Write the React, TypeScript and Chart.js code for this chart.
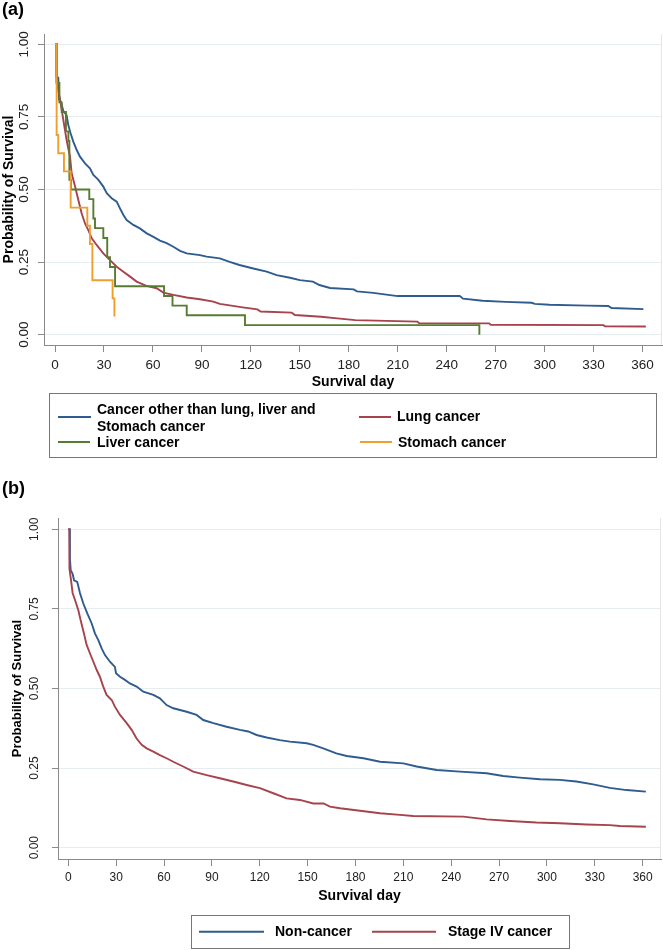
import React, { useEffect, useRef } from 'react';
import { Chart, registerables } from 'chart.js';

Chart.register(...registerables);

const FONT_FAMILY = 'Arial, "Liberation Sans", Helvetica, sans-serif';

// ---------- ticks & texts ----------
const X_TICK_VALUES = [0, 30, 60, 90, 120, 150, 180, 210, 240, 270, 300, 330, 360];
const X_TICK_LABELS = ['0', '30', '60', '90', '120', '150', '180', '210', '240', '270', '300', '330', '360'];
const Y_TICK_VALUES = [0, 0.25, 0.5, 0.75, 1];
const Y_TICK_LABELS = ['0.00', '0.25', '0.50', '0.75', '1.00'];

const X_TITLE = 'Survival day';
const Y_TITLE = 'Probability of Survival';
const PANEL_A_LABEL = '(a)';
const PANEL_B_LABEL = '(b)';

const SERIES_A_NAMES = [
  'Cancer other than lung, liver and\nStomach cancer',
  'Lung cancer',
  'Liver cancer',
  'Stomach cancer',
];
const SERIES_B_NAMES = ['Non-cancer', 'Stage IV cancer'];

// ---------- panel (a) survival curves: [day, survival] ----------
// dense curves: vertices of the traced curve
const otherCancer: [number, number][] = [
  [0, 1], [1, 1], [1, 0.89], [2, 0.885], [2.5, 0.81], [3.7, 0.8], [5.1, 0.77], [7.1, 0.756], [8.2, 0.72],
  [9.6, 0.693], [11.2, 0.665], [13.3, 0.636], [15.3, 0.613], [18.4, 0.59], [21.4, 0.573], [23.5, 0.55],
  [26.6, 0.533], [29.6, 0.51], [31.7, 0.487], [34.7, 0.47], [37.8, 0.458], [39.8, 0.435], [41.9, 0.412],
  [43.9, 0.395], [48, 0.378], [52, 0.366], [56.2, 0.349], [60.3, 0.337], [64.3, 0.324], [68.4, 0.315],
  [72.5, 0.303], [76.6, 0.289], [80.7, 0.28], [88.8, 0.274], [92.9, 0.269], [101, 0.263], [107, 0.251],
  [113, 0.24], [121.5, 0.228], [129.7, 0.217], [135.8, 0.205], [144, 0.196], [150, 0.188], [158, 0.183],
  [162, 0.171], [168.5, 0.161], [183, 0.156], [185, 0.149], [195, 0.144], [203, 0.138], [210, 0.133],
  [248, 0.133], [250, 0.124], [262, 0.117], [276, 0.113], [292, 0.11], [294, 0.106], [303, 0.103],
  [326, 0.1], [339, 0.099], [341, 0.092], [360.5, 0.088],
];
const lungCancer: [number, number][] = [
  [0, 1], [1, 1], [1, 0.87], [1.4, 0.86], [3.1, 0.81], [5.1, 0.74], [7.1, 0.67], [9.2, 0.613], [10.2, 0.556],
  [12.3, 0.51], [14.3, 0.464], [16.3, 0.418], [18.4, 0.383], [20.4, 0.36], [22.5, 0.332], [25.5, 0.309],
  [29.6, 0.28], [33.7, 0.257], [37.8, 0.234], [41.9, 0.217], [46, 0.2], [50, 0.183], [56, 0.168],
  [62.3, 0.16], [66.4, 0.145], [72.5, 0.137], [80.7, 0.128], [88.8, 0.122], [97, 0.114], [101, 0.106],
  [115, 0.094], [124, 0.087], [126, 0.08], [145, 0.076], [147, 0.068], [163, 0.062], [173, 0.056],
  [184, 0.05], [222, 0.045], [223, 0.04], [266, 0.039], [267, 0.034], [336, 0.033], [337, 0.029],
  [362, 0.028],
];
// step curves: [event day, survival after event]
const liverCancer: [number, number][] = [
  [0, 1], [1, 0.867], [2.7, 0.8], [4.1, 0.767], [6.7, 0.7], [8.2, 0.667], [8.8, 0.533], [9.8, 0.5],
  [21, 0.467], [23.5, 0.4], [24.5, 0.367], [29.6, 0.333], [32, 0.267], [33.7, 0.233], [36.8, 0.167],
  [66.8, 0.133], [72, 0.1], [80.7, 0.067], [116.4, 0.033], [260, 0],
];
const stomachCancer: [number, number][] = [
  [0, 1], [1, 0.6875], [2, 0.625], [5.5, 0.5625], [9.6, 0.4375], [19.8, 0.375], [21.4, 0.3125],
  [22.9, 0.1875], [35.3, 0.125], [36.4, 0.0625],
];

// ---------- panel (b) survival curves: [day, survival] ----------
const nonCancer: [number, number][] = [
  [0, 1], [0.8, 1], [1, 0.909], [1.5, 0.872], [2.7, 0.86], [3.6, 0.84], [5.6, 0.835], [7.3, 0.8],
  [9.4, 0.767], [11.9, 0.736], [14.6, 0.705], [16.7, 0.673], [18.8, 0.652], [20.9, 0.626], [23, 0.605],
  [26.1, 0.584], [29.2, 0.568], [29.9, 0.548], [32.4, 0.537], [35.5, 0.527], [38.6, 0.516], [42.8, 0.506],
  [47, 0.49], [53.3, 0.48], [57.4, 0.469], [61.6, 0.448], [65.8, 0.438], [74.2, 0.427], [80.4, 0.417],
  [84.6, 0.401], [90.9, 0.391], [99.2, 0.38], [107.6, 0.37], [112.8, 0.365], [118, 0.354], [124.3, 0.346],
  [132.6, 0.338], [138.9, 0.333], [149.4, 0.328], [153.5, 0.323], [159.8, 0.312], [168, 0.296],
  [174.5, 0.288], [185, 0.281], [195.4, 0.27], [210, 0.265], [218.3, 0.255], [230.9, 0.244],
  [245.5, 0.239], [262.2, 0.234], [272.6, 0.225], [283, 0.22], [295.6, 0.215], [308.1, 0.213],
  [318.5, 0.208], [329, 0.199], [339.4, 0.188], [349.9, 0.181], [362, 0.176],
];
const stageFour: [number, number][] = [
  [0, 1], [0.7, 1], [0.7, 0.877], [1.7, 0.84], [2.7, 0.8], [4.2, 0.778], [6.3, 0.746], [7.7, 0.715],
  [9.8, 0.673], [11.5, 0.637], [13.6, 0.61], [15.7, 0.584], [17.8, 0.558], [19.8, 0.537], [21.9, 0.506],
  [24, 0.48], [27.2, 0.464], [29.2, 0.443], [32.4, 0.417], [36.6, 0.391], [39.7, 0.37], [42.8, 0.343],
  [46, 0.323], [49.1, 0.312], [53.3, 0.302], [57.4, 0.291], [61.6, 0.281], [65.8, 0.27], [72, 0.255],
  [78.3, 0.239], [86.7, 0.228], [95, 0.218], [103.4, 0.208], [111.8, 0.197], [120.1, 0.187],
  [128.5, 0.171], [136.8, 0.155], [145.2, 0.15], [153.5, 0.139], [160, 0.139], [164, 0.129],
  [170.3, 0.124], [182.8, 0.116], [195.4, 0.108], [207.9, 0.103], [216.2, 0.0995], [247.6, 0.0975],
  [262.2, 0.089], [276.8, 0.084], [293.5, 0.079], [308.1, 0.077], [324.8, 0.073], [339.4, 0.071],
  [345.7, 0.068], [362, 0.066],
];

// ---------- styles ----------
const COLORS_A = ['#2f5c8f', '#a6434d', '#587b33', '#f09e2c'];
const ORDER_A = [4, 3, 2, 1];
const STEPPED_A = [false, false, true, true];
const COLORS_B = ['#2f5c8f', '#a6434d'];
const ORDER_B = [2, 1];
const STEPPED_B = [false, false];
const AXIS_COLOR = '#8a8a8a';
const GRID_COLOR = '#e6edf0';
const FRAME_COLOR = '#e6e6e6';
const TICK_TEXT = '#222';

interface LegendItemPos { x0: number; x1: number; y: number; tx: number; ty: number; }
interface LegendLayout { x: number; y: number; w: number; h: number; items: LegendItemPos[]; lineHeight: number; fontSize: number; }

function makeDecorPlugin(lay: LegendLayout) {
  return {
    id: 'boxLegend',
    beforeDatasetsDraw(chart: any) {
      const ctx: CanvasRenderingContext2D = chart.ctx;
      const a = chart.chartArea;
      ctx.save();
      ctx.strokeStyle = FRAME_COLOR;
      ctx.lineWidth = 1;
      ctx.beginPath();
      const xr = Math.round(a.right) - 0.5;
      ctx.moveTo(xr, a.top);
      ctx.lineTo(xr, a.bottom);
      ctx.stroke();
      ctx.restore();
    },
    afterDraw(chart: any) {
      const ctx: CanvasRenderingContext2D = chart.ctx;
      ctx.save();
      ctx.strokeStyle = '#777';
      ctx.lineWidth = 1;
      ctx.strokeRect(Math.round(lay.x) + 0.5, Math.round(lay.y) + 0.5, Math.round(lay.w), Math.round(lay.h));
      ctx.font = `bold ${lay.fontSize}px ${FONT_FAMILY}`;
      ctx.textBaseline = 'middle';
      ctx.textAlign = 'left';
      chart.data.datasets.forEach((ds: any, i: number) => {
        const it = lay.items[i];
        if (!it) return;
        ctx.strokeStyle = ds.borderColor;
        ctx.lineWidth = 2;
        ctx.beginPath();
        ctx.moveTo(it.x0, it.y);
        ctx.lineTo(it.x1, it.y);
        ctx.stroke();
        ctx.fillStyle = '#000';
        const lines = String(ds.label).split('\n');
        lines.forEach((ln, k) => {
          ctx.fillText(ln, it.tx, it.ty + (k - (lines.length - 1) / 2) * lay.lineHeight);
        });
      });
      ctx.restore();
    },
  };
}

interface PanelSpec {
  height: number;
  label: string;
  labelPad: { top: number; bottom: number };
  padding: { left: number; right: number; top: number; bottom: number };
  xRange: [number, number];
  yRange: [number, number];
  xAxisHeight: number;
  yAxisWidth: number;
  tickFont: number;
  xTickPad: number;
  yTickPad: number;
  xTitleFont: number;
  xTitlePadBottom: number;
  yTitleFont: number;
  yTitlePadTop: number;
  series: { name: string; points: [number, number][]; color: string; order: number; stepped: boolean }[];
  legend: LegendLayout;
}

function buildConfig(p: PanelSpec): any {
  return {
    type: 'line',
    data: {
      datasets: p.series.map((s) => ({
        label: s.name,
        data: s.points.map(([x, y]) => ({ x, y })),
        borderColor: s.color,
        backgroundColor: s.color,
        borderWidth: 1.9,
        pointRadius: 0,
        pointHoverRadius: 0,
        stepped: s.stepped ? 'before' : false,
        fill: false,
        tension: 0,
        order: s.order,
      })),
    },
    options: {
      responsive: false,
      maintainAspectRatio: false,
      animation: false,
      devicePixelRatio: 1,
      events: [],
      layout: { padding: p.padding },
      plugins: {
        legend: { display: false },
        tooltip: { enabled: false },
        title: {
          display: true,
          text: p.label,
          align: 'start',
          color: '#000',
          font: { family: FONT_FAMILY, size: 18, weight: 'bold', lineHeight: 1 },
          padding: p.labelPad,
        },
      },
      scales: {
        x: {
          type: 'linear',
          min: p.xRange[0],
          max: p.xRange[1],
          afterBuildTicks: (scale: any) => {
            scale.ticks = X_TICK_VALUES.map((v) => ({ value: v }));
          },
          afterFit: (scale: any) => {
            scale.height = p.xAxisHeight;
          },
          ticks: {
            autoSkip: false,
            maxRotation: 0,
            minRotation: 0,
            padding: p.xTickPad,
            color: TICK_TEXT,
            font: { family: FONT_FAMILY, size: p.tickFont, lineHeight: 1.2 },
            callback: (_v: any, i: number) => X_TICK_LABELS[i],
          },
          grid: { drawOnChartArea: false, drawTicks: true, tickLength: 7, tickColor: AXIS_COLOR },
          border: { display: true, color: AXIS_COLOR, width: 1 },
          title: {
            display: true,
            text: X_TITLE,
            color: '#000',
            font: { family: FONT_FAMILY, size: p.xTitleFont, weight: 'bold', lineHeight: 1.2 },
            padding: { top: 0, bottom: p.xTitlePadBottom },
          },
        },
        y: {
          type: 'linear',
          min: p.yRange[0],
          max: p.yRange[1],
          afterBuildTicks: (scale: any) => {
            scale.ticks = Y_TICK_VALUES.map((v) => ({ value: v }));
          },
          afterFit: (scale: any) => {
            scale.width = p.yAxisWidth;
          },
          ticks: {
            autoSkip: false,
            minRotation: 90,
            maxRotation: 90,
            crossAlign: 'center',
            padding: p.yTickPad,
            color: TICK_TEXT,
            font: { family: FONT_FAMILY, size: p.tickFont, lineHeight: 1.2 },
            callback: (_v: any, i: number) => Y_TICK_LABELS[i],
          },
          grid: { color: GRID_COLOR, drawTicks: true, tickLength: 6, tickColor: AXIS_COLOR, lineWidth: 1 },
          border: { display: true, color: AXIS_COLOR, width: 1 },
          title: {
            display: true,
            text: Y_TITLE,
            color: '#000',
            font: { family: FONT_FAMILY, size: p.yTitleFont, weight: 'bold', lineHeight: 1 },
            padding: { top: p.yTitlePadTop, bottom: 0 },
          },
        },
      },
    },
    plugins: [makeDecorPlugin(p.legend)],
  };
}

const PANEL_A: PanelSpec = {
  height: 470,
  label: PANEL_A_LABEL,
  labelPad: { top: 1, bottom: 15 },
  padding: { left: 2, right: 1, top: 0, bottom: 75 },
  xRange: [-6.74, 371.9],
  yRange: [-0.0355, 1.0355],
  xAxisHeight: 50,
  yAxisWidth: 42,
  tickFont: 13.5,
  xTickPad: 5,
  yTickPad: 1,
  xTitleFont: 14,
  xTitlePadBottom: 4.6,
  yTitleFont: 14,
  yTitlePadTop: 0,
  series: SERIES_A_NAMES.map((name, i) => ({
    name,
    points: [otherCancer, lungCancer, liverCancer, stomachCancer][i],
    color: COLORS_A[i],
    order: ORDER_A[i],
    stepped: STEPPED_A[i],
  })),
  legend: {
    x: 49, y: 393, w: 607, h: 64, fontSize: 14, lineHeight: 17,
    items: [
      { x0: 58, x1: 91, y: 417, tx: 97, ty: 418.5 },
      { x0: 359, x1: 391, y: 417, tx: 397, ty: 417 },
      { x0: 58, x1: 90, y: 442, tx: 97, ty: 443 },
      { x0: 360, x1: 392, y: 442, tx: 398, ty: 443 },
    ],
  },
};

const PANEL_B: PanelSpec = {
  height: 480,
  label: PANEL_B_LABEL,
  labelPad: { top: 10, bottom: 20 },
  padding: { left: 2, right: 2, top: 0, bottom: 45 },
  xRange: [-6.46, 371.5],
  yRange: [-0.0355, 1.0355],
  xAxisHeight: 46,
  yAxisWidth: 56,
  tickFont: 12,
  xTickPad: 4,
  yTickPad: 5.3,
  xTitleFont: 14,
  xTitlePadBottom: 0.9,
  yTitleFont: 13,
  yTitlePadTop: 9,
  series: SERIES_B_NAMES.map((name, i) => ({
    name,
    points: [nonCancer, stageFour][i],
    color: COLORS_B[i],
    order: ORDER_B[i],
    stepped: STEPPED_B[i],
  })),
  legend: {
    x: 191, y: 445, w: 378, h: 33, fontSize: 14, lineHeight: 17,
    items: [
      { x0: 199, x1: 264, y: 461.7, tx: 275, ty: 462 },
      { x0: 372, x1: 436, y: 461.7, tx: 448, ty: 462 },
    ],
  },
};

function Panel({ spec, top }: { spec: PanelSpec; top: number }) {
  const ref = useRef<HTMLCanvasElement | null>(null);
  useEffect(() => {
    if (!ref.current) return;
    const chart = new Chart(ref.current, buildConfig(spec));
    return () => {
      chart.destroy();
    };
  }, [spec]);
  return (
    <canvas
      ref={ref}
      width={663}
      height={spec.height}
      style={{ position: 'absolute', left: 0, top, width: 663, height: spec.height, display: 'block' }}
    />
  );
}

export default function App() {
  return (
    <div style={{ position: 'absolute', left: 0, top: 0, width: 663, height: 950, background: '#fff' }}>
      <Panel spec={PANEL_A} top={0} />
      <Panel spec={PANEL_B} top={470} />
    </div>
  );
}
